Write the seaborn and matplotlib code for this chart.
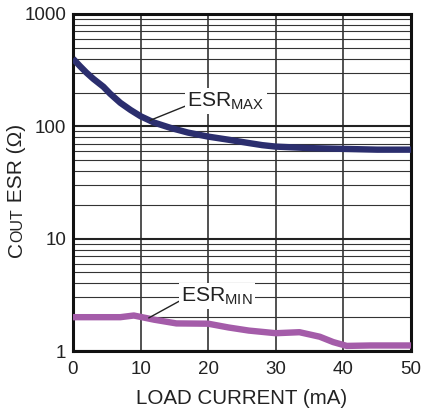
import numpy as np
import pandas as pd
import matplotlib
matplotlib.use("Agg")
import matplotlib.pyplot as plt
import seaborn as sns
from matplotlib.ticker import FixedLocator, NullFormatter

# ---- data ----
max_x = [0, 1, 2, 3, 4.5, 5.5, 7, 8.5, 10, 12, 14.4, 17, 20, 23, 26, 28, 30, 35, 40, 45, 50]
max_y = [400, 345, 300, 265, 225, 195, 162, 140, 123, 108, 97, 88, 81, 76, 71, 68, 66, 64, 63, 62, 62]
min_x = [0, 7, 9, 12, 15.3, 20, 23, 26, 30, 33.5, 36.5, 38.5, 40.5, 44, 50]
min_y = [2.0, 2.0, 2.07, 1.9, 1.76, 1.75, 1.62, 1.52, 1.44, 1.47, 1.34, 1.2, 1.11, 1.12, 1.12]
x_ticks = [0, 10, 20, 30, 40, 50]
y_ticks = [1, 10, 100, 1000]
y_tick_labels = ["1", "10", "100", "1000"]

sns.set_theme(style="white")
plt.rcParams['font.family'] = ['Liberation Sans', 'DejaVu Sans']

df = pd.concat([
    pd.DataFrame({"x": max_x, "y": max_y, "s": "max"}),
    pd.DataFrame({"x": min_x, "y": min_y, "s": "min"}),
])

W, H = 422, 413
fig = plt.figure(figsize=(W / 100, H / 100), dpi=100)
ax = fig.add_axes([73 / W, 1 - 351 / H, (411 - 73) / W, (351 - 14) / H])

ax.set_yscale("log")
ax.set_xlim(0, 50)
ax.set_ylim(1, 1000)

# grid
minors = [m * 10 ** d for d in range(0, 3) for m in range(2, 10)]
ax.yaxis.set_minor_locator(FixedLocator(minors))
ax.yaxis.set_minor_formatter(NullFormatter())
ax.set_yticks(y_ticks)
ax.set_yticklabels(y_tick_labels)
ax.set_xticks(x_ticks)
ax.grid(True, which="major", axis="y", color="#222222", lw=1.5)
ax.grid(True, which="minor", axis="y", color="#333333", lw=0.8)
ax.grid(True, which="major", axis="x", color="#222222", lw=1.1)
ax.set_axisbelow(True)

sns.lineplot(data=df, x="x", y="y", hue="s", palette={"max": "#2b2e6e", "min": "#a45ca9"},
             lw=4.6, ax=ax, legend=False, sort=False, solid_capstyle="butt", zorder=3)
for ln in ax.get_lines():
    ln.set_solid_joinstyle("round")

for s in ax.spines.values():
    s.set_linewidth(2.2)
    s.set_color("#111111")
    s.set_visible(True)
ax.tick_params(axis="both", which="both", length=0, labelsize=13.5, colors="#222222", pad=7)
ax.tick_params(axis="y", pad=5)
ax.set_xlabel("LOAD CURRENT (mA)", fontsize=14.8, color="#222222", labelpad=8)
ax.set_ylabel("")

bbox = dict(facecolor="white", edgecolor="none", pad=1.5)
ax.annotate(r"ESR$_\mathregular{MAX}$", xy=(11.4, 113), xytext=(16.9, 168),
            fontsize=15.2, color="#222222", ha="left", va="center", bbox=bbox,
            arrowprops=dict(arrowstyle="-", color="#222222", lw=1.0, relpos=(0, 0.3),
                            shrinkA=0, shrinkB=0), zorder=4)
ax.annotate(r"ESR$_\mathregular{MIN}$", xy=(11.2, 1.97), xytext=(16.0, 3.1),
            fontsize=15.2, color="#222222", ha="left", va="center", bbox=bbox,
            arrowprops=dict(arrowstyle="-", color="#222222", lw=1.0, relpos=(0, 0.3),
                            shrinkA=0, shrinkB=0), zorder=4)

# y label with small caps "OUT"
renderer = fig.canvas.get_renderer()
pieces = [("C", 15), ("OUT", 11.5), (" ESR (Ω)", 15)]
xb = 22 / W
yb = 1 - 257 / H
for txt, fs in pieces:
    t = fig.text(xb, yb, txt, fontsize=fs, rotation=90, rotation_mode="anchor",
                 ha="left", va="baseline", color="#222222")
    ext = t.get_window_extent(renderer)
    yb += ext.height / H

fig.savefig("out.png", dpi=100)
